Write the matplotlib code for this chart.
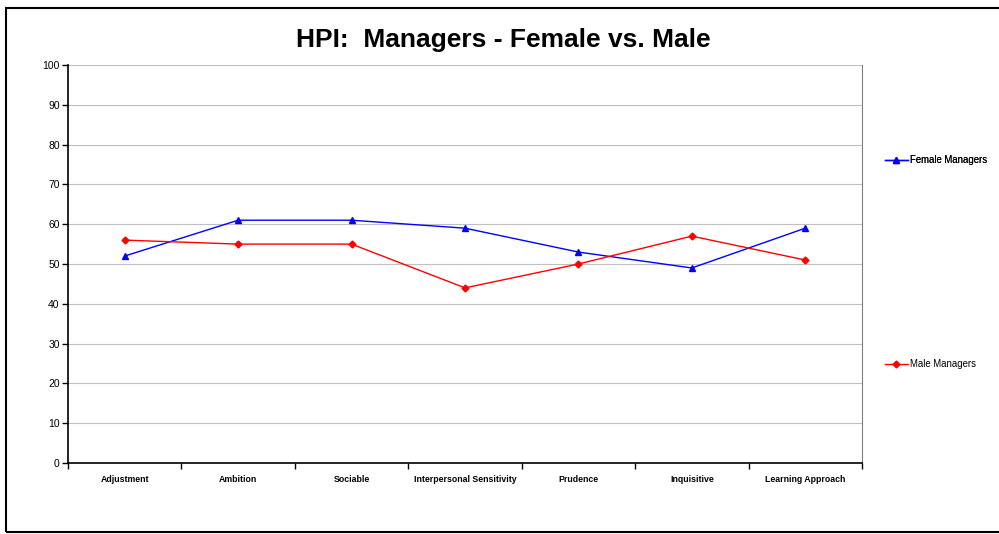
import numpy as np
import matplotlib.pyplot as plt
from matplotlib.patches import Rectangle

categories = ['Adjustment', 'Ambition', 'Sociable', 'Interpersonal Sensitivity',
              'Prudence', 'Inquisitive', 'Learning Approach']
female = [52, 61, 61, 59, 53, 49, 59]
male = [56, 55, 55, 44, 50, 57, 51]

plt.rcParams['font.family'] = ['Liberation Sans', 'DejaVu Sans']

W, H = 999, 534
fig = plt.figure(figsize=(W / 100, H / 100), dpi=100)
ax = fig.add_axes([68 / W, 1 - 463 / H, (862 - 68) / W, (463 - 65) / H])

# outer chart border
fig.patches.append(Rectangle((6 / W, 2 / H), 1.2, 1 - 10 / H, transform=fig.transFigure,
                             fill=False, edgecolor='black', linewidth=1.5))

x = np.arange(len(categories))
lf, = ax.plot(x, female, color='#0000FF', lw=1, marker='^', ms=5, label='Female Managers')
lm, = ax.plot(x, male, color='#FF0000', lw=1, marker='D', ms=3.5, label='Male Managers')

ax.set_xlim(-0.5, len(categories) - 0.5)
ax.set_ylim(0, 100)
ax.set_yticks(range(0, 101, 10))
ax.yaxis.grid(True, color='#C0C0C0', lw=0.8)
ax.set_axisbelow(True)

ax.set_xticks(x)
ax.set_xticklabels(categories, fontsize=6.3, fontweight='bold')
ax.tick_params(axis='x', length=0, pad=9)
ax.set_xticks(np.arange(-0.5, len(categories)), minor=True)
ax.tick_params(axis='x', which='minor', length=4, direction='out', width=1)
ax.tick_params(axis='y', labelsize=7.5, length=4, direction='out', width=1, pad=2)

for s in ['top', 'right']:
    ax.spines[s].set_color('#808080')
    ax.spines[s].set_linewidth(0.8)
ax.spines['top'].set_visible(False)
ax.spines['left'].set_linewidth(1.2)
ax.spines['bottom'].set_linewidth(1.2)

fig.text(503 / W, 1 - 40 / H, 'HPI:  Managers - Female vs. Male', ha='center', va='center',
         fontsize=19, fontweight='bold')

leg1 = fig.legend(handles=[lf], loc='center left', bbox_to_anchor=(876 / W, 1 - 160 / H),
                  frameon=False, fontsize=6.9, handlelength=2.4, handletextpad=0.3)
fig.add_artist(leg1)
fig.legend(handles=[lm], loc='center left', bbox_to_anchor=(876 / W, 1 - 364 / H),
           frameon=False, fontsize=6.9, handlelength=2.4, handletextpad=0.3)

fig.savefig('out.png', dpi=100)
